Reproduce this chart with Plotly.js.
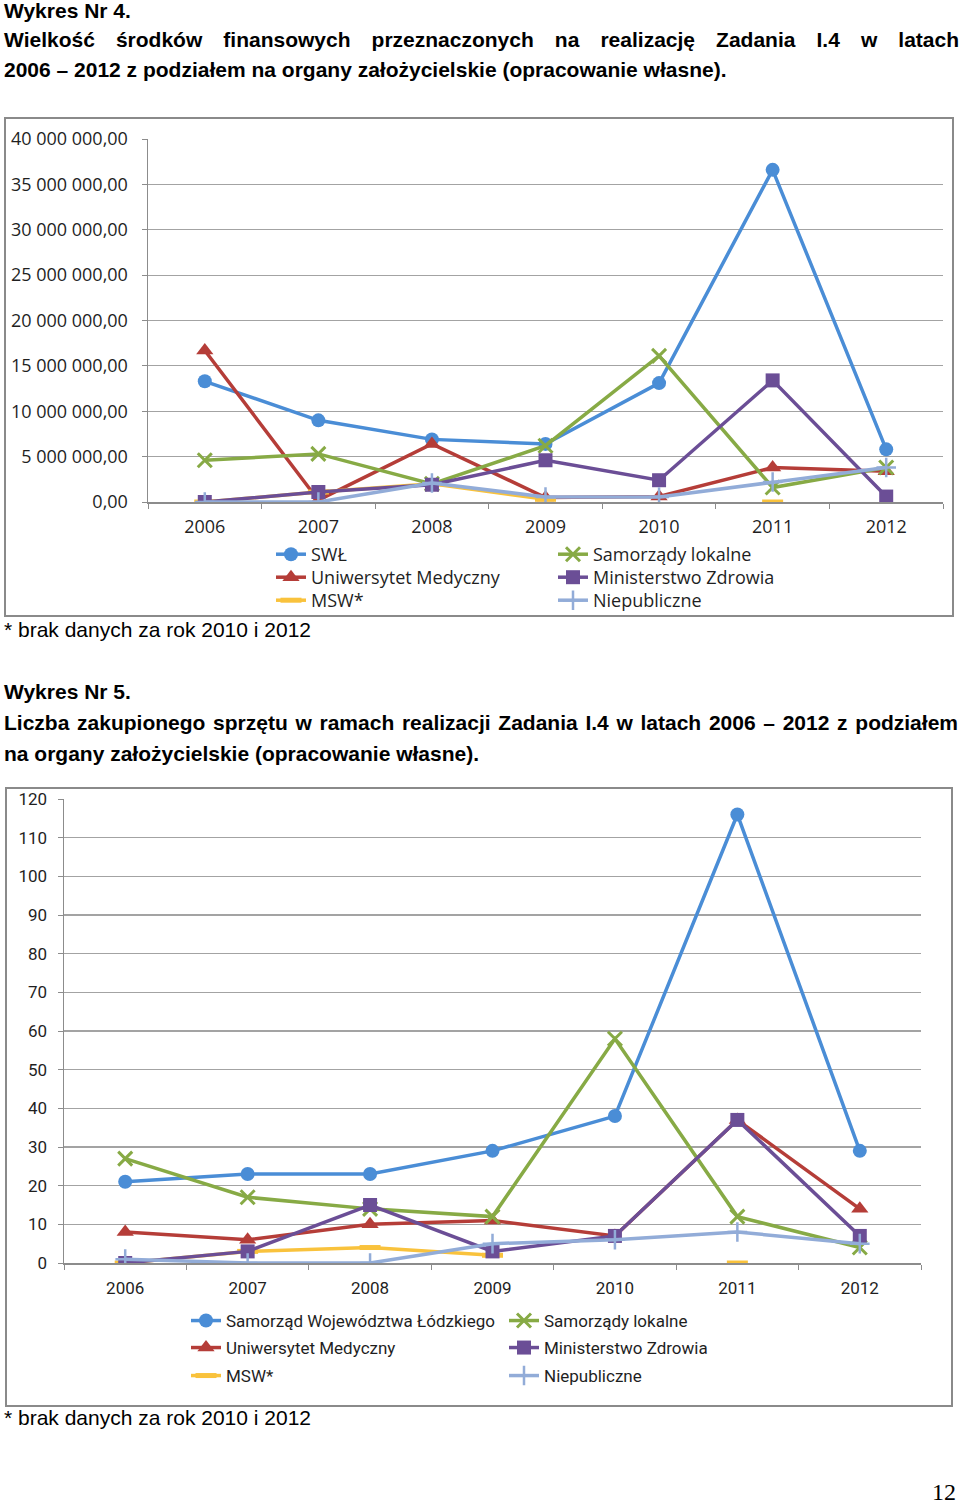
<!DOCTYPE html>
<html><head><meta charset="utf-8">
<script src="https://cdn.plot.ly/plotly-3.0.1.min.js"></script>
<style>
body{margin:0;background:#fff;}
#wrap{position:relative;width:960px;height:1507px;overflow:hidden;background:#fff;}
#chart{position:absolute;left:0;top:0;width:960px;height:1507px;}
.t{position:absolute;font-family:"Liberation Sans",Arial,sans-serif;font-size:21px;line-height:21px;color:#000;white-space:nowrap;}
.b{font-weight:bold;}
.j{white-space:normal;text-align:justify;text-align-last:justify;}
.pg{position:absolute;font-family:"Liberation Serif","Times New Roman",serif;font-size:24px;line-height:20px;color:#000;}
</style></head><body>
<div id="wrap">
<div id="chart"></div>
<div class="t b" style="left:4px;top:0px">Wykres Nr 4.</div>
<div class="t b j" style="left:4px;top:29px;width:955px">Wielkość środków finansowych przeznaczonych na realizację Zadania I.4 w latach</div>
<div class="t b" style="left:4px;top:59px">2006 – 2012 z podziałem na organy założycielskie (opracowanie własne).</div>
<div class="t" style="left:4px;top:619px">* brak danych za rok 2010 i 2012</div>
<div class="t b" style="left:4px;top:681px">Wykres Nr 5.</div>
<div class="t b j" style="left:4px;top:712px;width:954px">Liczba zakupionego sprzętu w ramach realizacji Zadania I.4 w latach 2006 – 2012 z podziałem</div>
<div class="t b" style="left:4px;top:743px">na organy założycielskie (opracowanie własne).</div>
<div class="t" style="left:4px;top:1407px">* brak danych za rok 2010 i 2012</div>
<div class="pg" style="left:932px;top:1482px">12</div>
</div>
<script>
// ---- data ----
const years = ['2006','2007','2008','2009','2010','2011','2012'];

// Wykres 4: funds (PLN)
const fundNames = ['SWŁ','Uniwersytet Medyczny','MSW*','Samorządy lokalne','Ministerstwo Zdrowia','Niepubliczne'];
const fundSWL = [13300000, 9000000, 6900000, 6400000, 13100000, 36600000, 5800000];
const fundUM  = [16700000, 200000, 6400000, 500000, 600000, 3800000, 3400000];
const fundMSW = [0, 1100000, 2000000, 300000, null, 0, null];
const fundSL  = [4600000, 5300000, 2000000, 6200000, 16100000, 1600000, 3800000];
const fundMZ  = [0, 1100000, 1900000, 4600000, 2400000, 13400000, 600000];
const fundNP  = [0, 0, 2100000, 550000, 550000, 2200000, 3800000];

// Wykres 5: counts of equipment
const cntNames = ['Samorząd Województwa Łódzkiego','Uniwersytet Medyczny','MSW*','Samorządy lokalne','Ministerstwo Zdrowia','Niepubliczne'];
const cntSWL = [21, 23, 23, 29, 38, 116, 29];
const cntUM  = [8, 6, 10, 11, 7, 37, 14];
const cntMSW = [0, 3, 4, 2, null, 0, null];
const cntSL  = [27, 17, 14, 12, 58, 12, 4];
const cntMZ  = [0, 3, 15, 3, 7, 37, 7];
const cntNP  = [1, 0, 0, 5, 6, 8, 5];

// ---- styles ----
const W = 960, H = 1507;
const px = v => v / W;
const py = v => 1 - v / H;
const colors = ['#4a8dd6', '#b53d38', '#f9c23c', '#87aa45', '#6b4e96', '#92acd8'];
const markers = [
  {symbol:'circle', size:14},
  {symbol:'triangle-up', size:15},
  {symbol:'line-ew', size:15, lw:5},
  {symbol:'x-thin', size:14, lw:3},
  {symbol:'square', size:14},
  {symbol:'cross-thin', size:14, lw:2.5}
];

function mk(i, name, yv, xa, ya, leg) {
  const m = markers[i];
  const marker = {symbol:m.symbol, size:m.size, color:colors[i]};
  if (m.lw) marker.line = {width:m.lw, color:colors[i]};
  return {
    type:'scatter', mode:'lines+markers', x:years, y:yv, name:name,
    xaxis:xa, yaxis:ya, legend:leg,
    line:{color:colors[i], width:3.5}, marker:marker, connectgaps:false,
    hoverinfo:'skip'
  };
}

const fundSeries = [fundSWL, fundUM, fundMSW, fundSL, fundMZ, fundNP];
const cntSeries = [cntSWL, cntUM, cntMSW, cntSL, cntMZ, cntNP];
const legKey = n => n === 1 ? 'legend' : 'legend' + n;
const traces = [];
fundSeries.forEach((s, i) => traces.push(mk(i, fundNames[i], s, 'x', 'y', legKey(i + 1))));
cntSeries.forEach((s, i) => traces.push(mk(i, cntNames[i], s, 'x2', 'y2', legKey(i + 7))));

const axisGray = '#8c8c8c';
const gridGray = '#a3a3a3';
const f1 = {family:'Open Sans, sans-serif', size:18, color:'#1f1f1f'};
const f2 = {family:'Roboto, sans-serif', size:17, color:'#1f1f1f'};

function xax(d0, d1, font, anchor, stand) {
  return {domain:[px(d0), px(d1)], anchor:anchor, type:'category', range:[-0.5, 6.5],
    tickson:'boundaries', ticks:'outside', ticklen:5, tickcolor:axisGray,
    showline:true, linecolor:axisGray, linewidth:1.5, showgrid:false, zeroline:false,
    tickfont:font, ticklabelstandoff:stand, fixedrange:true};
}
function yax(top, bot, rng, dtick, fmt, font, anchor, stand) {
  return {domain:[py(bot), py(top)], anchor:anchor, range:rng, dtick:dtick, tick0:0,
    tickformat:fmt, ticks:'outside', ticklen:5, tickcolor:axisGray,
    showline:true, linecolor:axisGray, linewidth:1.5, showgrid:true, gridcolor:gridGray, gridwidth:1.2,
    zeroline:false, tickfont:font, ticklabelstandoff:stand, fixedrange:true};
}
function leg(xp, rowCenter, off, font) {
  return {x:px(xp), y:py(rowCenter - off), xanchor:'left', yanchor:'top', orientation:'v',
    bgcolor:'rgba(0,0,0,0)', borderwidth:0, font:font, itemclick:false};
}

const layout = {
  width:W, height:H, margin:{l:0, r:0, t:0, b:0},
  paper_bgcolor:'rgba(0,0,0,0)', plot_bgcolor:'rgba(0,0,0,0)',
  separators:', ', showlegend:true,
  xaxis: xax(148, 943, f1, 'y', 8),
  yaxis: yax(139, 502, [0, 40000000], 5000000, ',.2f', f1, 'x', 10),
  xaxis2: xax(64, 921, f2, 'y2', 9),
  yaxis2: yax(799, 1263, [0, 120], 10, 'd', f2, 'x2', 7),
  shapes:[
    {type:'rect', xref:'paper', yref:'paper', x0:px(5), x1:px(953), y0:py(616), y1:py(118), line:{color:'#8a8a8a', width:2}},
    {type:'rect', xref:'paper', yref:'paper', x0:px(6), x1:px(952), y0:py(1406), y1:py(788), line:{color:'#8a8a8a', width:2}}
  ]
};
// legend rows (col1: SWŁ, UM, MSW; col2: SL, MZ, NP)
const rows1 = [554, 577, 600], rows2 = [1320, 1347, 1375];
[0,1,2].forEach(r => {
  layout[legKey(r + 1)] = leg(271, rows1[r], 18, f1);
  layout[legKey(r + 4)] = leg(553, rows1[r], 18, f1);
  layout[legKey(r + 7)] = leg(186, rows2[r], 17, f2);
  layout[legKey(r + 10)] = leg(504, rows2[r], 17, f2);
});

Plotly.newPlot('chart', traces, layout, {displayModeBar:false, staticPlot:true});
</script>
</body></html>
